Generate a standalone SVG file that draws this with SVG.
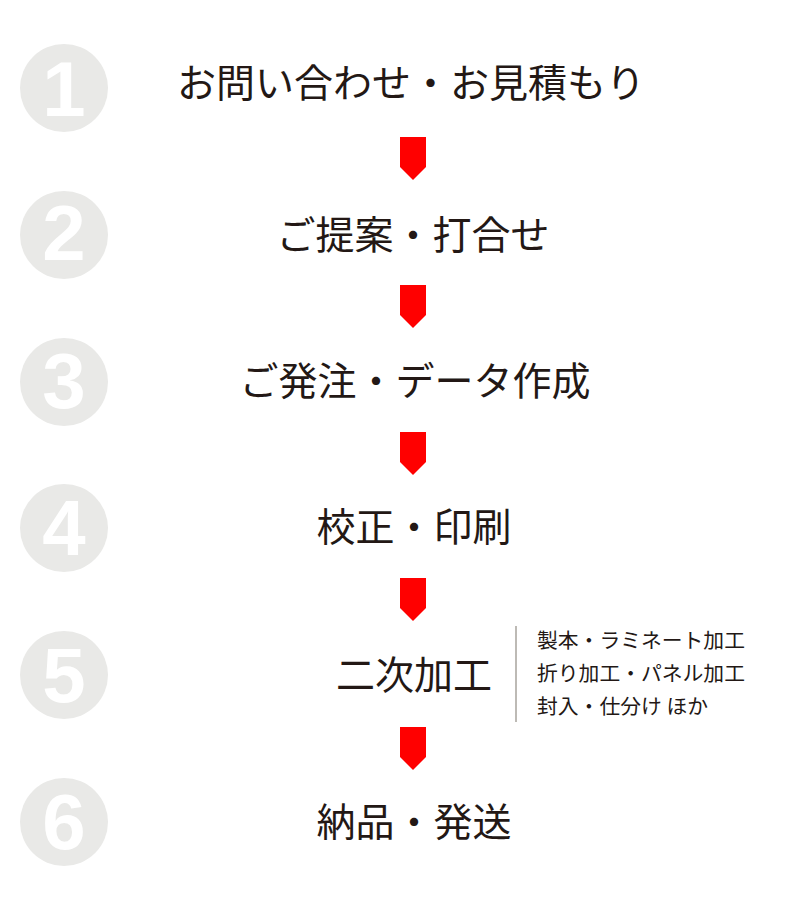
<svg xmlns="http://www.w3.org/2000/svg" width="800" height="900" viewBox="0 0 800 900">
<style>
.c{fill:#e9e9e7}
.n{fill:#fff;font-family:"Liberation Sans",Arial,sans-serif;font-weight:bold;font-size:78px;text-anchor:middle}
.t{fill:#231815;font-family:"Noto Sans CJK JP","Noto Sans",sans-serif;font-size:39px;text-anchor:middle}
.s{fill:#231815;font-family:"Noto Sans CJK JP","Noto Sans",sans-serif;font-size:20.8px}
.a{fill:#ff0000}
</style>
<rect width="800" height="900" fill="#fff"/>
<g id="step1"><circle class="c" cx="64" cy="88" r="44"/><text class="n" x="64" y="116">1</text><text class="t" x="411" y="97">お問い合わせ・お見積もり</text></g>
<g id="step2"><circle class="c" cx="64" cy="235" r="44"/><text class="n" x="64" y="260">2</text><text class="t" x="413" y="249">ご提案・打合せ</text></g>
<g id="step3"><circle class="c" cx="64" cy="382" r="44"/><text class="n" x="64" y="408">3</text><text class="t" x="415" y="395">ご発注・データ作成</text></g>
<g id="step4"><circle class="c" cx="64" cy="528" r="44"/><text class="n" x="64" y="555">4</text><text class="t" x="414" y="541">校正・印刷</text></g>
<g id="step5"><circle class="c" cx="64" cy="675" r="44"/><text class="n" x="64" y="702">5</text><text class="t" x="414" y="689">二次加工</text>
<line x1="516" y1="626" x2="516" y2="722" stroke="#bdbab5" stroke-width="2"/>
<text class="s" x="537" y="648">製本・ラミネート加工</text>
<text class="s" x="537" y="681">折り加工・パネル加工</text>
<text class="s" x="537" y="714">封入・仕分け ほか</text></g>
<g id="step6"><circle class="c" cx="64" cy="822" r="44"/><text class="n" x="64" y="849">6</text><text class="t" x="414" y="836">納品・発送</text></g>
<g id="connectors">
<polygon class="a" points="400,137 426,137 426,167 413,180 400,167"/>
<polygon class="a" points="400,285 426,285 426,315 413,328 400,315"/>
<polygon class="a" points="400,432 426,432 426,462 413,475 400,462"/>
<polygon class="a" points="400,578 426,578 426,608 413,621 400,608"/>
<polygon class="a" points="400,727 426,727 426,757 413,770 400,757"/>
</g>
</svg>
